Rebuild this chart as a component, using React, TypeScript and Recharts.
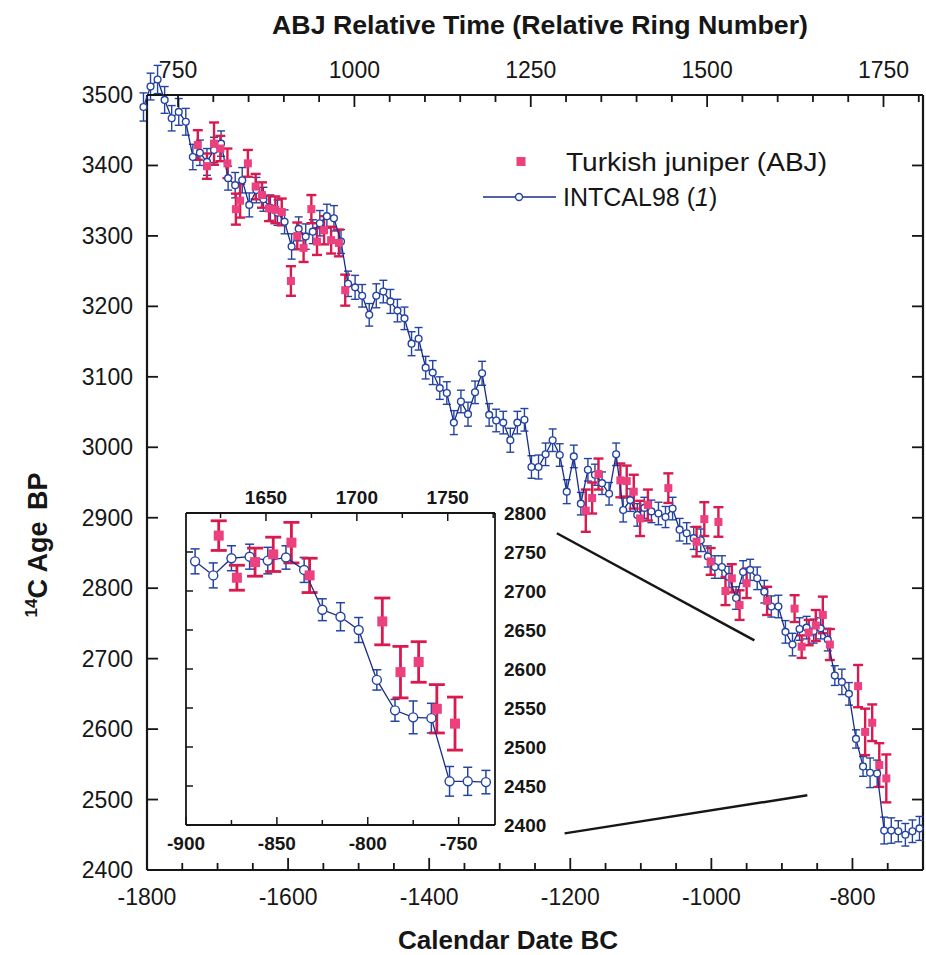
import { ComposedChart, Scatter, XAxis, YAxis, ErrorBar, ReferenceLine } from 'recharts';

// relative ring number = calendar year + RING_OFFSET
const RING_OFFSET = 2506;

// INTCAL98 decadal 14C ages (calendar year BC as negative numbers)
const intcalYears = [
  -1805, -1795, -1785, -1775, -1765, -1755, -1745, -1735, -1725, -1715,
  -1705, -1695, -1685, -1675, -1665, -1655, -1645, -1635, -1625, -1615,
  -1605, -1595, -1585, -1575, -1565, -1555, -1545, -1535, -1525, -1515,
  -1505, -1495, -1485, -1475, -1465, -1455, -1445, -1435, -1425, -1415,
  -1405, -1395, -1385, -1375, -1365, -1355, -1345, -1335, -1325, -1315,
  -1305, -1295, -1285, -1275, -1265, -1255, -1245, -1235, -1225, -1215,
  -1205, -1195, -1185, -1175, -1165, -1155, -1145, -1135, -1125, -1115,
  -1105, -1095, -1085, -1075, -1065, -1055, -1045, -1035, -1025, -1015,
  -1005, -995, -985, -975, -965, -955, -945, -935, -925, -915,
  -905, -895, -885, -875, -865, -855, -845, -835, -825, -815,
  -805, -795, -785, -775, -765, -755, -745, -735, -725, -715,
  -705,
];
const intcalAge = [
  3483, 3512, 3522, 3493, 3467, 3476, 3462, 3412, 3418, 3405,
  3422, 3431, 3382, 3372, 3379, 3344, 3365, 3352, 3340, 3333,
  3320, 3285, 3310, 3299, 3306, 3318, 3328, 3325, 3292, 3232,
  3227, 3215, 3188, 3215, 3221, 3207, 3194, 3183, 3147, 3154,
  3113, 3106, 3084, 3077, 3035, 3065, 3047, 3078, 3105, 3046,
  3038, 3035, 3010, 3035, 3039, 2972, 2972, 2990, 3010, 2989,
  2937, 2987, 2920, 2968, 2961, 2949, 2934, 2990, 2911, 2925,
  2904, 2914, 2909, 2906, 2901, 2913, 2883, 2878, 2871, 2868,
  2845, 2830, 2830, 2816, 2786, 2823, 2826, 2814, 2795, 2774,
  2774, 2738, 2720, 2742, 2744, 2739, 2743, 2727, 2676, 2667,
  2650, 2586, 2547, 2538, 2537, 2456, 2456, 2455, 2450, 2455,
  2459,
];
const intcalErr = [
  20, 19, 20, 19, 18, 19, 19, 18, 18, 19,
  18, 18, 17, 18, 18, 17, 18, 17, 18, 18,
  17, 18, 17, 18, 17, 18, 17, 18, 17, 18,
  17, 16, 16, 17, 16, 17, 16, 16, 17, 16,
  16, 17, 16, 16, 17, 16, 17, 16, 17, 16,
  16, 16, 17, 16, 16, 16, 17, 16, 16, 16,
  17, 16, 16, 16, 15, 16, 16, 16, 17, 16,
  16, 15, 16, 16, 15, 16, 16, 15, 16, 16,
  15, 16, 16, 15, 16, 16, 15, 16, 16, 15,
  16, 16, 16, 16, 16, 17, 15, 16, 14, 18,
  16, 13, 14, 21, 19, 19, 18, 15, 16, 16,
  17,
];

// Turkish juniper (ABJ) measurements
const abjYears = [
  -1728, -1715, -1705, -1696, -1686, -1674, -1668, -1657, -1646, -1637, -1627,
  -1618, -1609, -1596, -1587, -1578, -1567, -1559, -1549, -1539, -1528, -1519,
  -1178, -1169, -1160, -1129, -1120, -1110, -1101, -1090, -1061, -1021, -1010,
  -1001, -990, -980, -971, -960, -950, -921, -882, -872, -862, -852, -842, -832,
  -792, -782, -772, -762, -752,
];
const abjAge = [
  3429, 3399, 3431, 3424, 3403, 3338, 3350, 3403, 3370, 3358, 3339,
  3337, 3334, 3236, 3300, 3283, 3338, 3292, 3308, 3294, 3290, 3223,
  2910, 2928, 2962, 2953, 2952, 2937, 2899, 2918, 2942, 2866, 2898,
  2838, 2894, 2796, 2814, 2776, 2807, 2782, 2771, 2717, 2737, 2747, 2762, 2720,
  2661, 2596, 2609, 2549, 2530,
];
const abjErr = [
  21, 18, 30, 18, 21, 22, 24, 19, 18, 18, 18,
  19, 19, 21, 19, 20, 20, 19, 20, 19, 19, 22,
  30, 22, 22, 24, 22, 24, 25, 22, 21, 21, 24,
  19, 21, 20, 20, 21, 21, 20, 19, 16, 18, 22, 26, 22,
  30, 33, 26, 31, 34,
];

// tick values
const mainYearTicks = [
  -1800, -1750, -1700, -1650, -1600, -1550, -1500, -1450, -1400, -1350, -1300, -1250,
  -1200, -1150, -1100, -1050, -1000, -950, -900, -850, -800, -750, -700,
];
const mainRingTicks = [
  750, 800, 850, 900, 950, 1000, 1050, 1100, 1150, 1200, 1250,
  1300, 1350, 1400, 1450, 1500, 1550, 1600, 1650, 1700, 1750, 1800,
];
const mainAgeTicks = [2400, 2500, 2600, 2700, 2800, 2900, 3000, 3100, 3200, 3300, 3400, 3500];
const insetYearTicks = [-900, -875, -850, -825, -800, -775, -750];
const insetRingTicks = [1625, 1650, 1675, 1700, 1725, 1750, 1775];
const insetAgeTicks = [2400, 2450, 2500, 2550, 2600, 2650, 2700, 2750, 2800];

const intcal = intcalYears.map((year, i) => ({ year, age: intcalAge[i], err: intcalErr[i] }));
const abj = abjYears.map((year, i) => ({ year, age: abjAge[i], err: abjErr[i] }));
const insetIntcal = intcal.filter((d) => d.year >= -900 && d.year <= -730);
const insetAbj = abj.filter((d) => d.year >= -900 && d.year <= -730);
// invisible anchors so the ring-number axes get bound to a series
const mainRingAnchors = mainRingTicks.map((ring) => ({ ring, age: 3500 }));
const insetRingAnchors = insetRingTicks.map((ring) => ({ ring, age: 2800 }));

const INK = '#161616';
const BLUE = '#2444a2';
const LINE_BLUE = '#1a2d8a';
const PINK = '#ec407f';
const PINK_BAR = '#d81a4e';

// main plot box (page pixels)
const M = { left: 147, right: 923, top: 95, bottom: 870 };
// inset plot box (inside its own 420x400 chart)
const I = { left: 46, right: 355, top: 43, bottom: 355 };

const circleShape = (r: number) => (p: any) => (
  <circle cx={p.cx} cy={p.cy} r={r} fill="#fff" stroke={BLUE} strokeWidth={1.4} />
);
const squareShape = (s: number) => (p: any) => (
  <rect x={p.cx - s / 2} y={p.cy - s / 2} width={s} height={s} fill={PINK} />
);
const noShape = () => <g />;

const MainBottomTick = ({ x, payload }: any) => {
  const major = payload.value % 200 === 0;
  return (
    <g>
      <line x1={x} x2={x} y1={M.bottom} y2={M.bottom - (major ? 12 : 7)} stroke={INK} strokeWidth={1.8} />
      {major && (
        <text x={x} y={M.bottom + 35} textAnchor="middle" fontSize={23} fill={INK}>
          {payload.value}
        </text>
      )}
    </g>
  );
};

const MainTopTick = ({ x, payload }: any) => {
  const major = payload.value % 250 === 0;
  return (
    <g>
      <line x1={x} x2={x} y1={M.top} y2={M.top + (major ? 12 : 7)} stroke={INK} strokeWidth={1.8} />
      {major && (
        <text x={x} y={M.top - 17} textAnchor="middle" fontSize={23} fill={INK}>
          {payload.value}
        </text>
      )}
    </g>
  );
};

const MainLeftTick = ({ y, payload }: any) => (
  <g>
    <line x1={M.left} x2={M.left + 11} y1={y} y2={y} stroke={INK} strokeWidth={1.8} />
    <line x1={M.right - 11} x2={M.right} y1={y} y2={y} stroke={INK} strokeWidth={1.8} />
    <text x={M.left - 14} y={y + 8} textAnchor="end" fontSize={23} fill={INK}>
      {payload.value}
    </text>
  </g>
);

const InsetBottomTick = ({ x, payload }: any) => {
  const major = payload.value % 50 === 0;
  return (
    <g>
      <line x1={x} x2={x} y1={I.bottom} y2={I.bottom - (major ? 8 : 5)} stroke={INK} strokeWidth={1.5} />
      {major && (
        <text x={x} y={I.bottom + 25} textAnchor="middle" fontSize={19} fontWeight="bold" fill={INK}>
          {payload.value}
        </text>
      )}
    </g>
  );
};

const InsetTopTick = ({ x, payload }: any) => {
  const major = payload.value % 50 === 0;
  return (
    <g>
      <line x1={x} x2={x} y1={I.top} y2={I.top + (major ? 8 : 5)} stroke={INK} strokeWidth={1.5} />
      {major && (
        <text x={x} y={I.top - 9} textAnchor="middle" fontSize={19} fontWeight="bold" fill={INK}>
          {payload.value}
        </text>
      )}
    </g>
  );
};

const InsetRightTick = ({ y, payload }: any) => (
  <g>
    <line x1={I.left} x2={I.left + 7} y1={y} y2={y} stroke={INK} strokeWidth={1.5} />
    <text x={I.right + 9} y={y + 7} textAnchor="start" fontSize={19} fontWeight="bold" fill={INK}>
      {payload.value}
    </text>
  </g>
);

const App = () => {
  return (
    <div
      style={{
        position: 'absolute',
        left: 0,
        top: 0,
        width: 926,
        height: 955,
        background: '#fff',
        fontFamily: '"Liberation Sans", Arial, Helvetica, sans-serif',
      }}
    >
      <style>{'.main-plot g[clip-path]{clip-path:none !important;}'}</style>

      <div className="main-plot" style={{ position: 'absolute', left: 0, top: 0 }}>
        <ComposedChart width={926} height={955} margin={{ top: 55, right: 3, bottom: 45, left: 87 }}>
          <XAxis
            dataKey="year"
            type="number"
            domain={[-1800, -700]}
            allowDataOverflow
            ticks={mainYearTicks}
            interval={0}
            tick={<MainBottomTick />}
            tickLine={false}
            axisLine={{ stroke: INK, strokeWidth: 2.2 }}
            height={40}
          />
          <XAxis
            xAxisId="top"
            dataKey="ring"
            orientation="top"
            type="number"
            domain={[-1800 + RING_OFFSET, -700 + RING_OFFSET]}
            allowDataOverflow
            ticks={mainRingTicks}
            interval={0}
            tick={<MainTopTick />}
            tickLine={false}
            axisLine={{ stroke: INK, strokeWidth: 2.2 }}
            height={40}
          />
          <YAxis
            dataKey="age"
            type="number"
            domain={[2400, 3500]}
            allowDataOverflow
            ticks={mainAgeTicks}
            interval={0}
            tick={<MainLeftTick />}
            tickLine={false}
            axisLine={{ stroke: INK, strokeWidth: 2.2 }}
            width={60}
          />
          <ReferenceLine x={-700} stroke={INK} strokeWidth={2.2} />
          <ReferenceLine
            segment={[{ x: -1219, y: 2878 }, { x: -939, y: 2726 }]}
            stroke={INK}
            strokeWidth={2.5}
          />
          <ReferenceLine
            segment={[{ x: -1208, y: 2452 }, { x: -864, y: 2506 }]}
            stroke={INK}
            strokeWidth={2.5}
          />
          <Scatter xAxisId="top" data={mainRingAnchors} shape={noShape} legendType="none" isAnimationActive={false} />
          <Scatter
            name="INTCAL98"
            data={intcal}
            line={{ stroke: LINE_BLUE, strokeWidth: 1.3 }}
            lineType="joint"
            shape={circleShape(3.4)}
            isAnimationActive={false}
          >
            <ErrorBar dataKey="err" direction="y" width={4} stroke={BLUE} strokeWidth={1.4} isAnimationActive={false} />
          </Scatter>
          <Scatter name="Turkish juniper (ABJ)" data={abj} shape={squareShape(8)} isAnimationActive={false}>
            <ErrorBar dataKey="err" direction="y" width={5} stroke={PINK_BAR} strokeWidth={2.4} isAnimationActive={false} />
          </Scatter>
        </ComposedChart>
      </div>

      <div style={{ position: 'absolute', left: 140, top: 470 }}>
        <ComposedChart width={420} height={400} margin={{ top: 13, right: 15, bottom: 15, left: 46 }}>
          <XAxis
            dataKey="year"
            type="number"
            domain={[-900, -730]}
            allowDataOverflow
            ticks={insetYearTicks}
            interval={0}
            tick={<InsetBottomTick />}
            tickLine={false}
            axisLine={{ stroke: INK, strokeWidth: 1.8 }}
            height={30}
          />
          <XAxis
            xAxisId="top"
            dataKey="ring"
            orientation="top"
            type="number"
            domain={[-900 + RING_OFFSET, -730 + RING_OFFSET]}
            allowDataOverflow
            ticks={insetRingTicks}
            interval={0}
            tick={<InsetTopTick />}
            tickLine={false}
            axisLine={{ stroke: INK, strokeWidth: 1.8 }}
            height={30}
          />
          <YAxis
            dataKey="age"
            orientation="right"
            type="number"
            domain={[2400, 2800]}
            allowDataOverflow
            ticks={insetAgeTicks}
            interval={0}
            tick={<InsetRightTick />}
            tickLine={false}
            axisLine={{ stroke: INK, strokeWidth: 1.8 }}
            width={50}
          />
          <ReferenceLine x={-900} stroke={INK} strokeWidth={1.8} />
          <Scatter xAxisId="top" data={insetRingAnchors} shape={noShape} legendType="none" isAnimationActive={false} />
          <Scatter
            data={insetIntcal}
            line={{ stroke: LINE_BLUE, strokeWidth: 1.3 }}
            lineType="joint"
            shape={circleShape(4.5)}
            isAnimationActive={false}
          >
            <ErrorBar dataKey="err" direction="y" width={4.5} stroke={BLUE} strokeWidth={1.5} isAnimationActive={false} />
          </Scatter>
          <Scatter data={insetAbj} shape={squareShape(10)} isAnimationActive={false}>
            <ErrorBar dataKey="err" direction="y" width={8} stroke={PINK_BAR} strokeWidth={2.8} isAnimationActive={false} />
          </Scatter>
        </ComposedChart>
      </div>

      <svg width={926} height={955} style={{ position: 'absolute', left: 0, top: 0, pointerEvents: 'none' }}>
        <text
          x={540}
          y={34}
          textAnchor="middle"
          fontSize={25}
          fontWeight="bold"
          fill={INK}
          textLength={536}
          lengthAdjust="spacingAndGlyphs"
        >
          ABJ Relative Time (Relative Ring Number)
        </text>
        <text
          x={508}
          y={949}
          textAnchor="middle"
          fontSize={25}
          fontWeight="bold"
          fill={INK}
          textLength={220}
          lengthAdjust="spacingAndGlyphs"
        >
          Calendar Date BC
        </text>
        <text transform="translate(47,545) rotate(-90)" textAnchor="middle" fontSize={27} fontWeight="bold" fill={INK}>
          <tspan fontSize={17} dy={-10}>14</tspan>
          <tspan dy={10}>C Age </tspan>
          <tspan dx={4}>BP</tspan>
        </text>

        <rect x={516.5} y={157} width={9} height={9} fill={PINK} />
        <text x={566} y={171} fontSize={26} fill={INK} textLength={261} lengthAdjust="spacingAndGlyphs">
          Turkish juniper (ABJ)
        </text>
        <line x1={483} x2={556} y1={197} y2={197} stroke={LINE_BLUE} strokeWidth={1.3} />
        <circle cx={519} cy={197} r={3.5} fill="#fff" stroke={BLUE} strokeWidth={1.4} />
        <text x={563} y={206} fontSize={25} fill={INK}>
          INTCAL98 (<tspan fontStyle="italic">1</tspan>)
        </text>
      </svg>
    </div>
  );
};

export default App;
